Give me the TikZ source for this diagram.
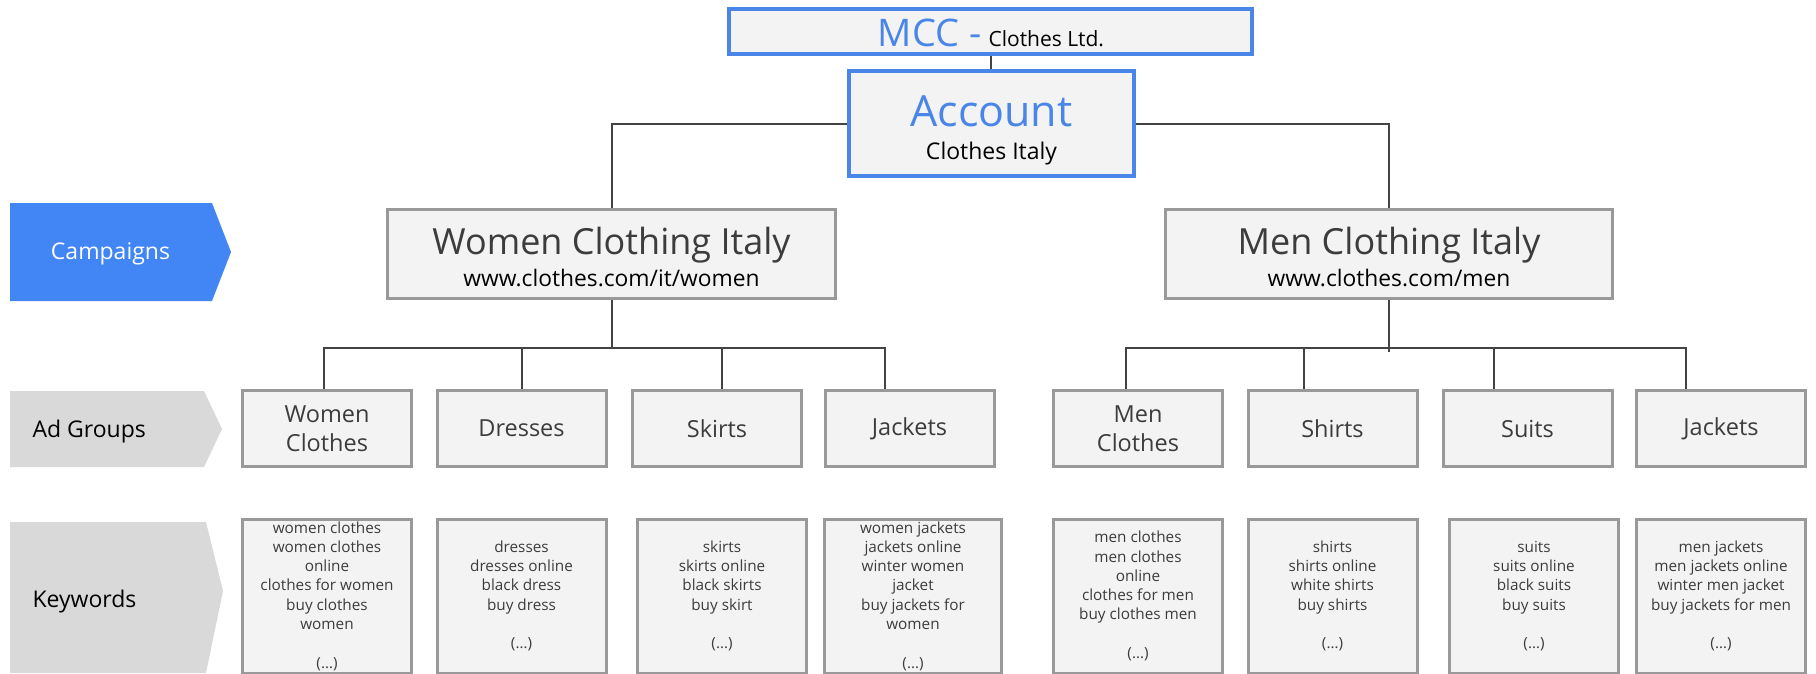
\documentclass[tikz,border=0pt]{standalone}
\usepackage{fontspec}
\setmainfont{Open Sans}
\definecolor{gblue}{HTML}{4A86E8}
\definecolor{chevblue}{HTML}{4285F4}
\definecolor{boxfill}{HTML}{F3F3F3}
\definecolor{boxline}{HTML}{999999}
\definecolor{connline}{HTML}{434343}
\definecolor{darktext}{HTML}{3C3C3C}
\definecolor{chevgray}{HTML}{D9D9D9}
\newcommand\setfs[2]{\fontsize{#1}{#2}\selectfont}
\tikzset{
  bluebox/.style={draw=gblue, line width=4pt, fill=boxfill, inner sep=0pt},
  graybox/.style={draw=boxline, line width=3pt, fill=boxfill, inner sep=0pt},
  adbox/.style={graybox, minimum width=169pt, minimum height=76pt, align=center, font=\setfs{23.5}{29}, text=darktext},
  kwbox/.style={graybox, minimum width=169pt, minimum height=154pt, align=center, font=\setfs{15.3}{19.3}, text=darktext},
  conn/.style={draw=connline, line width=2pt},
  sidelabel/.style={anchor=base west, font=\setfs{23}{26}, text=black},
}
\begin{document}
\begin{tikzpicture}[x=1pt,y=-1pt]
\useasboundingbox[fill=white] (0,0) rectangle (1816,673);

% side chevrons
\fill[chevblue] (10,203) -- (212,203) -- (231,252) -- (212,301) -- (10,301) -- cycle;
\fill[chevgray] (10,391) -- (204,391) -- (222,429) -- (204,467) -- (10,467) -- cycle;
\fill[chevgray] (10,522) -- (206,522) -- (223,591) -- (206,673) -- (10,673) -- cycle;
\node[anchor=base, font=\setfs{23}{26}, text=white] (campt) at (110.5,259) {Campaigns};
\node[sidelabel] (adgt) at (29,437) {Ad Groups};
\node[sidelabel] (kwt) at (29,607) {Keywords};

% top boxes
\node[bluebox, minimum width=523pt, minimum height=45pt] (mcc) at (990.5,31.5) {};
\node[bluebox, minimum width=285pt, minimum height=105pt] (acc) at (991.5,123.5) {};
\node[graybox, line width=3.5pt, minimum width=448pt, minimum height=89pt] (wci) at (611.5,254) {};
\node[graybox, line width=3.5pt, minimum width=447pt, minimum height=89pt] (mci) at (1389,254) {};

\node[anchor=base] (mcct) at (991,46) {\textcolor{gblue}{\setfs{38}{40}MCC -}\hspace{7pt}\setfs{21}{24}Clothes Ltd.};
\node[anchor=base, font=\setfs{43}{46}, text=gblue] (acct1) at (991.5,126) {Account};
\node[anchor=base, font=\setfs{23}{26}, text=black] (acct2) at (991.5,159) {Clothes Italy};
\node[anchor=base, font=\setfs{36}{40}, text=darktext] (wcit1) at (611.5,254) {Women Clothing Italy};
\node[anchor=base, font=\setfs{22.8}{26}, text=black] (wcit2) at (611.5,286) {www.clothes.com/it/women};
\node[anchor=base, font=\setfs{36}{40}, text=darktext] (mcit1) at (1389,254) {Men Clothing Italy};
\node[anchor=base, font=\setfs{22.8}{26}, text=black] (mcit2) at (1389,286) {www.clothes.com/men};

% ad groups
\node[adbox] (ag1) at (327,428.5) {Women\\Clothes};
\node[adbox] (ag2) at (521.5,428.5) {Dresses};
\node[adbox] (ag3) at (717,428.5) {Skirts};
\node[adbox] (ag4) at (909.5,428.5) {Jackets};
\node[adbox] (ag5) at (1138,428.5) {Men\\Clothes};
\node[adbox] (ag6) at (1332.5,428.5) {Shirts};
\node[adbox] (ag7) at (1527.5,428.5) {Suits};
\node[adbox] (ag8) at (1721,428.5) {Jackets};

% keywords
\node[kwbox] (kw1) at (327,596) {women clothes\\women clothes\\online\\clothes for women\\buy clothes\\women\\~\\(…)};
\node[kwbox] (kw2) at (521.5,596) {dresses\\dresses online\\black dress\\buy dress\\~\\(…)};
\node[kwbox] (kw3) at (722,596) {skirts\\skirts online\\black skirts\\buy skirt\\~\\(…)};
\node[kwbox, minimum width=177pt] (kw4) at (913,596) {women jackets\\jackets online\\winter women\\jacket\\buy jackets for\\women\\~\\(…)};
\node[kwbox] (kw5) at (1138,596) {men clothes\\men clothes\\online\\clothes for men\\buy clothes men\\~\\(…)};
\node[kwbox] (kw6) at (1332.5,596) {shirts\\shirts online\\white shirts\\buy shirts\\~\\(…)};
\node[kwbox] (kw7) at (1534,596) {suits\\suits online\\black suits\\buy suits\\~\\(…)};
\node[kwbox] (kw8) at (1721,596) {men jackets\\men jackets online\\winter men jacket\\buy jackets for men\\~\\(…)};

% connectors
\coordinate (wbar) at (611.5,348);
\coordinate (mbar) at (1389,348);
\draw[conn] (mcc.south) -- (mcc.south |- acc.north);
\draw[conn] (acc.west) -| (wci.north);
\draw[conn] (acc.east) -| (mci.north);
\draw[conn] (wci.south) -- (wbar);
\draw[conn] ([xshift=-3pt]ag1.north) |- (wbar) -| ([xshift=-24.5pt]ag4.north);
\draw[conn] (ag2.north) -- (ag2.north |- wbar);
\draw[conn] ([xshift=5pt]ag3.north) -- ([xshift=5pt]ag3.north |- wbar);
\draw[conn] (mci.south) -- ([yshift=-4pt]mbar);
\draw[conn] ([xshift=-12pt]ag5.north) |- (mbar) -| ([xshift=-35pt]ag8.north);
\draw[conn] ([xshift=-28.5pt]ag6.north) -- ([xshift=-28.5pt]ag6.north |- mbar);
\draw[conn] ([xshift=-33.5pt]ag7.north) -- ([xshift=-33.5pt]ag7.north |- mbar);
\end{tikzpicture}
\end{document}
